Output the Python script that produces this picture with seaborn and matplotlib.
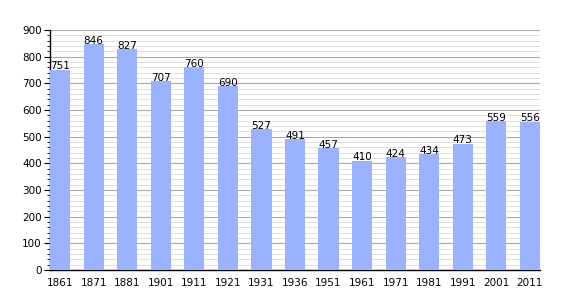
import matplotlib
matplotlib.use("Agg")
import matplotlib.pyplot as plt
import seaborn as sns
import pandas as pd
from matplotlib.ticker import MultipleLocator

years = ["1861", "1871", "1881", "1901", "1911", "1921", "1931", "1936", "1951",
         "1961", "1971", "1981", "1991", "2001", "2011"]
population = [751, 846, 827, 707, 760, 690, 527, 491, 457, 410, 424, 434, 473, 559, 556]

df = pd.DataFrame({"year": years, "pop": population})

sns.set_style("white")
fig = plt.figure(figsize=(5.7, 3.0), dpi=100)
ax = fig.add_axes([50/570, 30/300, 490/570, 240/300])

sns.barplot(data=df, x="year", y="pop", color="#99b3ff", saturation=1,
            width=0.6, ax=ax, zorder=3, linewidth=0, edgecolor="none")

ax.set_ylim(0, 900)
ax.set_xlim(-0.3, len(years) - 0.7)
ax.yaxis.set_major_locator(MultipleLocator(100))
ax.yaxis.set_minor_locator(MultipleLocator(20))
ax.grid(which="major", axis="y", color="#aaaaaa", linewidth=0.8, zorder=0)
ax.grid(which="minor", axis="y", color="#e0e0e0", linewidth=0.7, zorder=0)
ax.set_axisbelow(True)

for s in ["top", "right"]:
    ax.spines[s].set_visible(False)
for s in ["left", "bottom"]:
    ax.spines[s].set_color("black")
    ax.spines[s].set_linewidth(1.0)

ax.tick_params(axis="y", which="major", left=True, length=4, width=0.8,
               labelsize=7.5, pad=2, colors="black")
ax.tick_params(axis="y", which="minor", left=True, length=2, width=0.6, colors="black")
ax.tick_params(axis="x", bottom=False, labelsize=7.5, pad=2, colors="black")
ax.set_xlabel("")
ax.set_ylabel("")

for i, v in enumerate(population):
    ax.text(i, v - 6, str(v), ha="center", va="bottom", fontsize=7.5,
            color="black", zorder=4)

fig.savefig("out.png", dpi=100)
